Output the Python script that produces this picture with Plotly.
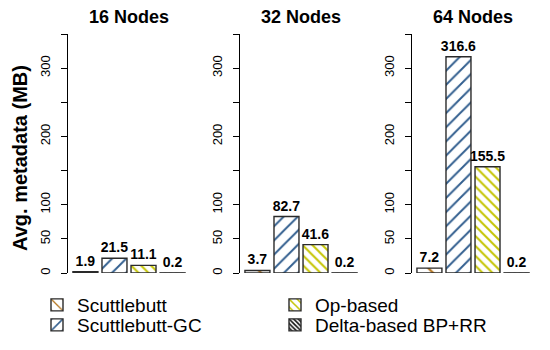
import plotly.graph_objects as go

# Données
panneaux = ["16 Nodes", "32 Nodes", "64 Nodes"]
methodes = ["Scuttlebutt", "Scuttlebutt-GC", "Op-based", "Delta-based BP+RR"]
scuttlebutt = [1.9, 3.7, 7.2]
scuttlebutt_gc = [21.5, 82.7, 316.6]
op_based = [11.1, 41.6, 155.5]
delta_based = [0.2, 0.2, 0.2]
valeurs = [scuttlebutt, scuttlebutt_gc, op_based, delta_based]

tick_vals = [0, 50, 100, 150, 200, 250, 300, 350]
tick_text = ["0", "50", "100", "", "200", "", "300", ""]

# Styles des hachures (couleur, sens, pas, épaisseur)
couleurs = ["#b4741c", "#335f8f", "#c4c400", "#111111"]
formes = ["\\", "/", "\\", "\\"]
tailles = [14, 10, 7, 4]
solidites = [0.16, 0.2, 0.28, 0.5]

# La page a une marge de 8 px : positions voulues à l'écran moins ce décalage
D = 8
W, H = 550, 350
haut_px, bas_px = 34 - D, 273 - D
L = 68 - D
panneaux_px = [(68 - D, 190 - D), (240 - D, 362 - D), (412 - D, 534 - D)]
R = W - panneaux_px[2][1]
T, B = haut_px, H - bas_px
larg = W - L - R
haut = H - T - B

def px_x(x):
    return (x - D - L) / larg

def px_y(y):
    return (bas_px - (y - D)) / haut

fig = go.Figure()

for p in range(3):
    suffixe = "" if p == 0 else str(p + 1)
    for m in range(4):
        fig.add_trace(go.Bar(
            x=[m],
            y=[valeurs[m][p]],
            width=0.86,
            name=methodes[m],
            legendgroup=methodes[m],
            legend="legend" if m == 0 else "legend" + str(m + 1),
            showlegend=(p == 0),
            marker=dict(
                color="white",
                line=dict(color="#2a2a2a", width=1.4),
                pattern=dict(shape=formes[m], fgcolor=couleurs[m], bgcolor="white",
                             size=tailles[m], solidity=solidites[m], fgopacity=1),
            ),
            text=[valeurs[m][p]],
            texttemplate="%{text:.1f}",
            textposition="outside",
            constraintext="none",
            cliponaxis=False,
            textfont=dict(family="Liberation Sans", size=14, color="black", weight="bold"),
            xaxis="x" + suffixe,
            yaxis="y" + suffixe,
            hoverinfo="skip",
        ))

# Axes de chaque panneau
for p in range(3):
    suffixe = "" if p == 0 else str(p + 1)
    x0, x1 = panneaux_px[p]
    dom = [(x0 - L) / larg, (x1 - L) / larg]
    fig.update_layout(**{
        "xaxis" + suffixe: dict(domain=dom, range=[-0.6, 3.6], visible=False,
                                anchor="y" + suffixe, fixedrange=True),
        "yaxis" + suffixe: dict(range=[0, 350], anchor="x" + suffixe,
                                tickvals=tick_vals, ticktext=tick_text,
                                tickangle=-90, ticks="outside", ticklen=6,
                                tickcolor="black", showline=True, linecolor="black",
                                linewidth=1, showgrid=False, zeroline=False,
                                ticklabelstandoff=6,
                                tickfont=dict(family="Liberation Sans", size=13, color="black")),
    })
    fig.add_annotation(
        text="<b>" + panneaux[p] + "</b>",
        xref="paper", yref="paper",
        x=(dom[0] + dom[1]) / 2, y=px_y(17),
        showarrow=False, xanchor="center", yanchor="middle",
        font=dict(family="Liberation Sans", size=18, color="black"),
    )

# Titre de l'axe y
fig.add_annotation(
    text="<b>Avg. metadata (MB)</b>",
    xref="paper", yref="paper",
    x=px_x(20), y=px_y(158),
    showarrow=False, textangle=-90, xanchor="center", yanchor="middle",
    font=dict(family="Liberation Sans", size=20, color="black"),
)

# Une légende par entrée pour placer les deux colonnes comme sur l'original
police_legende = dict(family="Liberation Sans", size=19, color="black")
pos_legendes = [(37, 305), (37, 325), (275, 305), (275, 325)]
for m in range(4):
    nom = "legend" if m == 0 else "legend" + str(m + 1)
    lx, ly = pos_legendes[m]
    fig.update_layout(**{nom: dict(x=px_x(lx), y=px_y(ly), xanchor="left", yanchor="middle",
                                   orientation="v", font=police_legende,
                                   bgcolor="rgba(0,0,0,0)", borderwidth=0)})

fig.update_layout(
    width=W, height=H,
    margin=dict(l=L, r=R, t=T, b=B, autoexpand=False),
    paper_bgcolor="white",
    plot_bgcolor="white",
    barmode="overlay",
)

fig.write_html("out.html")
